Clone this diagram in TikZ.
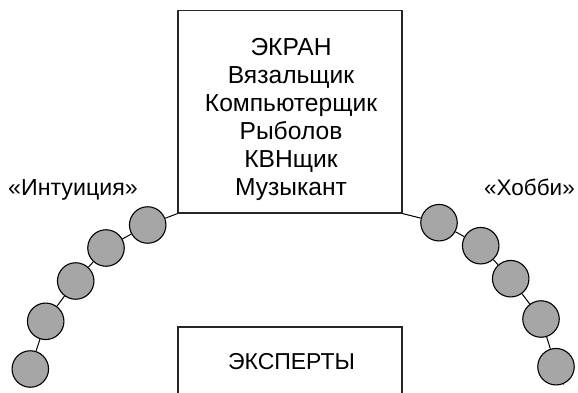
\documentclass[tikz,border=0pt]{standalone}
\usepackage{fontspec}
\setmainfont{Liberation Sans}
\begin{document}
\begin{tikzpicture}[x=1pt,y=-1pt,
  box/.style={draw=black!85,line width=1.2pt,fill=white,inner sep=0pt,minimum width=224pt},
  bead/.style={circle,draw=black,line width=1.1pt,fill=black!35,minimum size=36.5pt,inner sep=0pt},
  link/.style={draw=black,line width=1pt},
  txt/.style={inner sep=0pt,align=center,font=\fontsize{24.6}{28}\selectfont},
  exptxt/.style={inner sep=0pt,font=\fontsize{23}{28}\selectfont},
  side/.style={inner sep=0pt,font=\fontsize{23.2}{28}\selectfont},
  sideb/.style={inner sep=0pt,font=\fontsize{22.5}{28}\selectfont}]
\useasboundingbox (0,0) rectangle (578,393);
\node[box,minimum height=202.5pt] (screen) at (290,111.75) {};
\node[txt] (screenLabel) at (291,119) {ЭКРАН\\Вязальщик\\Компьютерщик\\Рыболов\\КВНщик\\Музыкант};
\node[box,minimum height=100pt] (experts) at (290,377) {};
\node[exptxt] (expertsLabel) at (291.5,362) {ЭКСПЕРТЫ};
\node[side,anchor=base west] (intuition) at (8,195) {«Интуиция»};
\node[sideb,anchor=base east] (hobby) at (575,195) {«Хобби»};
\foreach \n/\x/\y in {l1/147.7/225,l2/106/248,l3/75.7/281,l4/45.7/321.3,l5/30.3/369,
                      r1/439/222.7,r2/480.7/245.7,r3/510.7/278.7,r4/541/319,r5/556/366.7}
  \node[bead] (\n) at (\x,\y) {};
\coordinate (tail) at (563.7,384.5);
\draw[link] (screen.south west) -- (l1);
\draw[link] (l1) -- (l2);
\draw[link] (l2) -- (l3);
\draw[link] (l3) -- (l4);
\draw[link] (l4) -- (l5);
\draw[link] (screen.south east) -- (r1);
\draw[link] (r1) -- (r2);
\draw[link] (r2) -- (r3);
\draw[link] (r3) -- (r4);
\draw[link] (r4) -- (r5);
\draw[link] (r5) -- (tail);
\end{tikzpicture}
\end{document}
